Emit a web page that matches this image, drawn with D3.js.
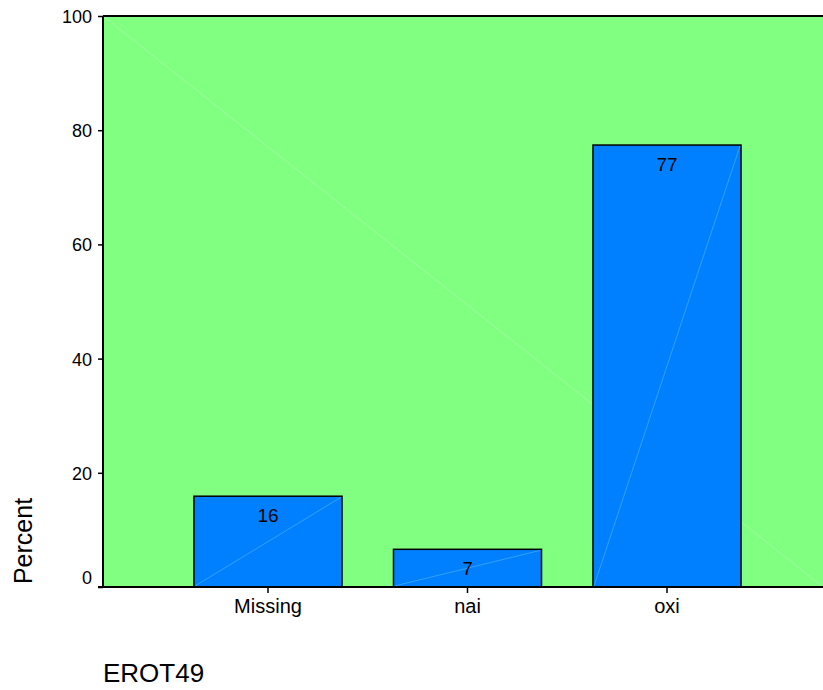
<!DOCTYPE html>
<html><head><meta charset="utf-8">
<script src="https://cdn.jsdelivr.net/npm/d3@7"></script>
<style>body{margin:0;background:#fff;}svg{display:block;font-family:"Liberation Sans",Arial,sans-serif;}</style>
</head><body>
<svg id="c" width="823" height="690"></svg>
<script>
const categories = ["Missing", "nai", "oxi"];
const percents = [15.9, 6.6, 77.4];
const labels = ["16", "7", "77"];
const yTicks = [0, 20, 40, 60, 80, 100];

(function () {
const svg = d3.select("#c");
const pLeft = 103, pTop = 16, pBottom = 587, pRight = 823;
const FONT = "Liberation Sans, Arial, sans-serif";

const y = d3.scaleLinear().domain([0, 100]).range([pBottom, pTop]);
const x = d3.scaleBand().domain(categories).range([168.25, 766.75]).paddingInner(0.258).paddingOuter(0.129);

// background
svg.append("rect").attr("x", pLeft).attr("y", pTop).attr("width", pRight - pLeft).attr("height", pBottom - pTop).attr("fill", "#80FF80");
svg.append("line").attr("x1", pLeft).attr("y1", pTop).attr("x2", pRight).attr("y2", pBottom)
  .attr("stroke", "#a8ffa8").attr("stroke-width", 0.8);

// bars
const g = svg.append("g");
categories.forEach((c, i) => {
  const x0 = x(c), w = x.bandwidth(), y0 = y(percents[i]);
  g.append("rect").attr("x", x0).attr("y", y0).attr("width", w).attr("height", pBottom - y0)
    .attr("fill", "#0080FF").attr("stroke", "#000").attr("stroke-width", 1.5);
  g.append("line").attr("x1", x0 + 1).attr("y1", pBottom - 1).attr("x2", x0 + w - 1).attr("y2", y0 + 1)
    .attr("stroke", "#3fa8ff").attr("stroke-width", 0.8);
  g.append("text").attr("x", x0 + w / 2).attr("y", y0 + 26).attr("text-anchor", "middle")
    .attr("font-family", FONT).attr("font-size", 19).attr("fill", "#000").text(labels[i]);
});

// frame: top line
svg.append("line").attr("x1", pLeft).attr("x2", pRight).attr("y1", pTop).attr("y2", pTop).attr("stroke", "#000").attr("stroke-width", 2);

const yAxis = d3.axisLeft(y).tickValues(yTicks).tickSize(5).tickFormat(d3.format("d"));
const ya = svg.append("g").attr("transform", `translate(${pLeft},0)`).call(yAxis);
ya.select(".domain").attr("stroke", "#000").attr("stroke-width", 2).attr("d", `M0,${pTop}V${pBottom}`);
ya.selectAll(".tick line").attr("stroke", "#000").attr("stroke-width", 1.5);
ya.selectAll(".tick text").attr("font-size", 18).attr("fill", "#000").attr("x", -11)
  .attr("font-family", FONT)
  .attr("dy", null).attr("y", d => d === 0 ? -4 : 6.5);

const xAxis = d3.axisBottom(x).tickSize(6).tickSizeOuter(0);
const xa = svg.append("g").attr("transform", `translate(0,${pBottom})`).call(xAxis);
xa.select(".domain").attr("stroke", "#000").attr("stroke-width", 2).attr("d", `M${pLeft - 5},0H${pRight}`);
xa.selectAll(".tick line").attr("stroke", "#000").attr("stroke-width", 1.5);
xa.selectAll(".tick text").attr("font-size", 20).attr("fill", "#000").attr("dy", null).attr("y", 26)
  .attr("font-family", FONT);

// axis titles
svg.append("text").attr("transform", "translate(32,541) rotate(-90)").attr("text-anchor", "middle")
  .attr("font-family", FONT).attr("font-size", 25).attr("fill", "#000").text("Percent");
svg.append("text").attr("x", 103).attr("y", 682).attr("font-family", FONT).attr("font-size", 26).attr("fill", "#000").text("EROT49");
})();
</script>
</body></html>
